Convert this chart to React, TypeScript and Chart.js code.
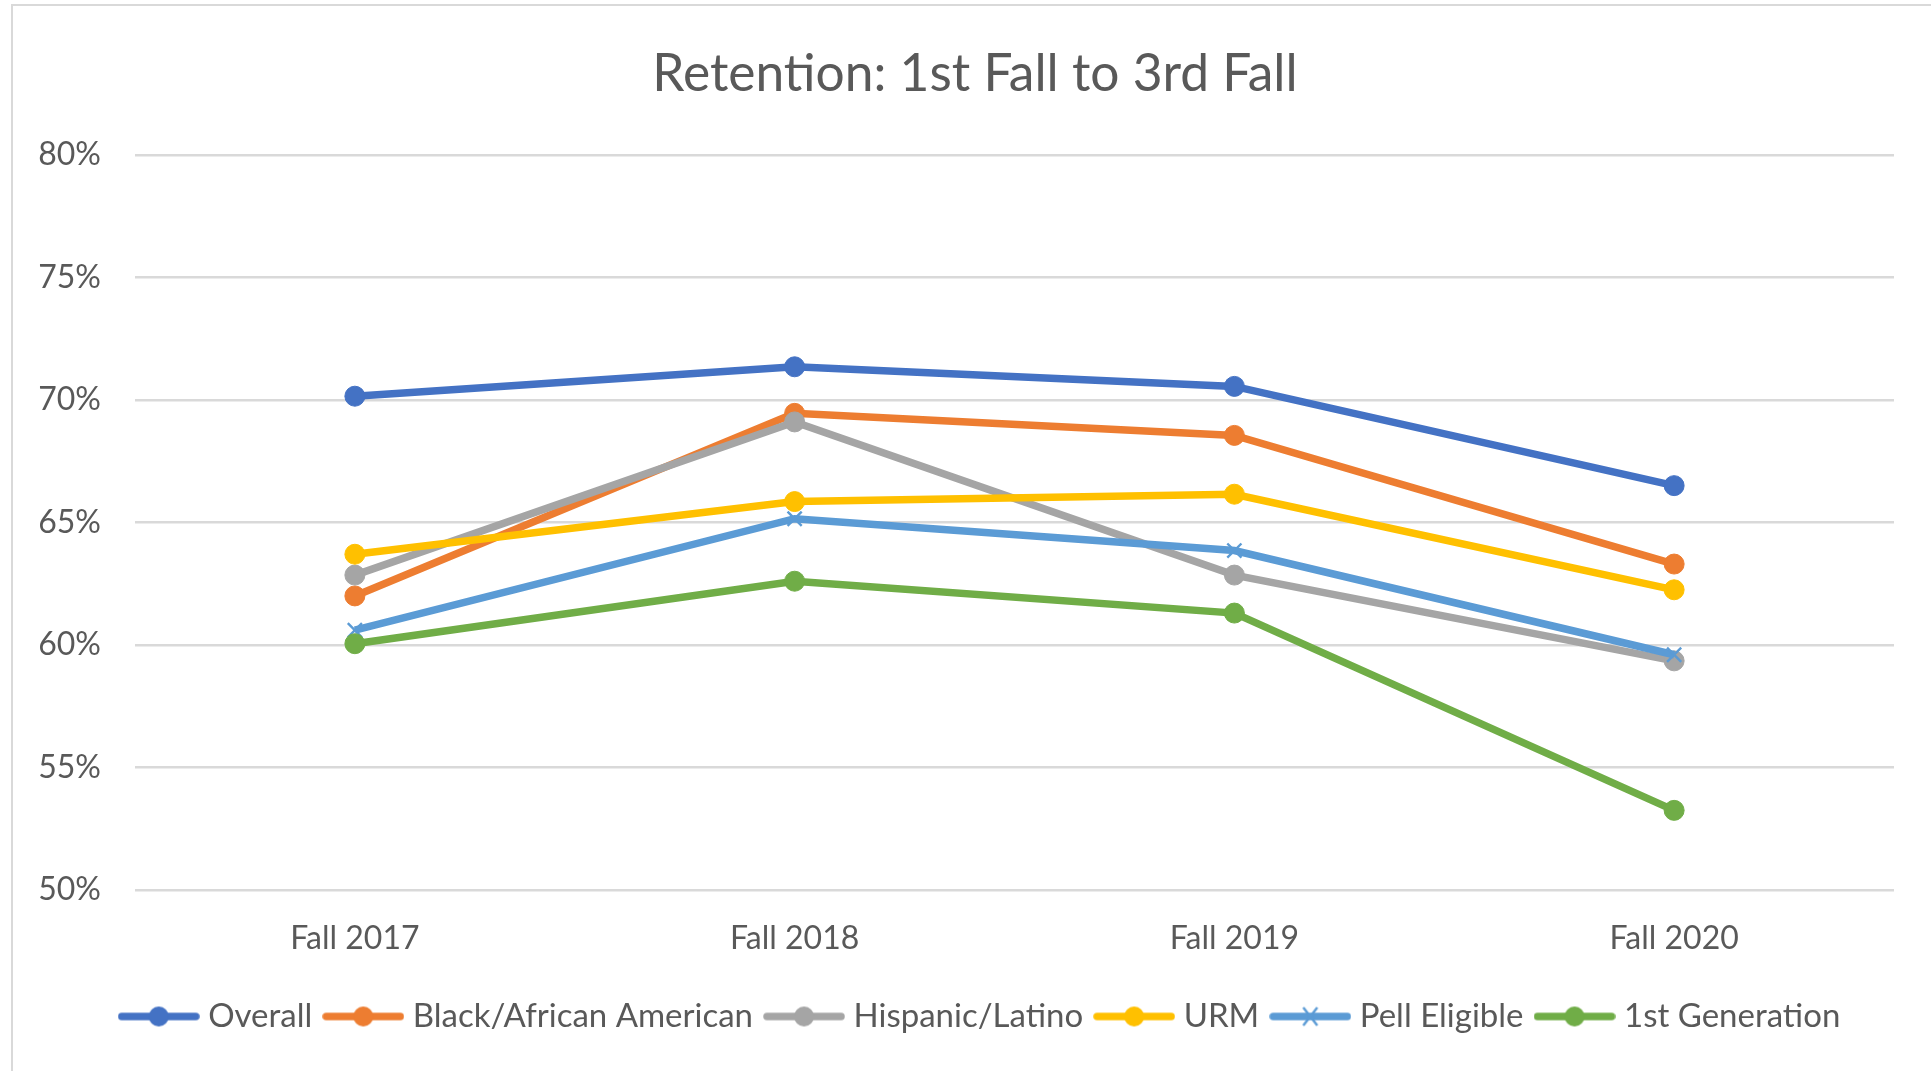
import React, { useEffect, useRef } from 'react';
import { Chart, registerables } from 'chart.js';

Chart.register(...registerables);

const categories = ['Fall 2017', 'Fall 2018', 'Fall 2019', 'Fall 2020'];
const overall = [70.15, 71.35, 70.55, 66.5];
const blackAfricanAmerican = [62.0, 69.45, 68.55, 63.3];
const hispanicLatino = [62.85, 69.1, 62.85, 59.35];
const urm = [63.7, 65.85, 66.15, 62.25];
const pellEligible = [60.6, 65.15, 63.85, 59.6];
const firstGeneration = [60.05, 62.6, 61.3, 53.25];
const seriesNames = ['Overall', 'Black/African American', 'Hispanic/Latino', 'URM', 'Pell Eligible', '1st Generation'];
const seriesColors = ['#4472C4', '#ED7D31', '#A5A5A5', '#FFC000', '#5B9BD5', '#70AD47'];
const seriesMarkers = ['circle', 'circle', 'circle', 'circle', 'crossRot', 'circle'];
const yMin = 50;
const yMax = 80;
const yStep = 5;
const titleText = 'Retention: 1st Fall to 3rd Fall';

const TEXT = '#595959';
const GRID = '#D9D9D9';
const FONT = 'Lato, "Noto Sans", sans-serif';
const LINE_W = 7.5;

function makeLegendMarker(color: string, marker: string): HTMLCanvasElement {
  const c = document.createElement('canvas');
  c.width = 82;
  c.height = 26;
  const ctx = c.getContext('2d')!;
  ctx.strokeStyle = color;
  ctx.lineWidth = LINE_W;
  ctx.lineCap = 'round';
  ctx.beginPath();
  ctx.moveTo(4, 13);
  ctx.lineTo(78, 13);
  ctx.stroke();
  if (marker === 'circle') {
    ctx.fillStyle = color;
    ctx.beginPath();
    ctx.arc(41, 13, 10, 0, Math.PI * 2);
    ctx.fill();
  } else {
    ctx.lineWidth = 2.4;
    ctx.lineCap = 'butt';
    ctx.beginPath();
    ctx.moveTo(34, 4);
    ctx.lineTo(48, 22);
    ctx.moveTo(48, 4);
    ctx.lineTo(34, 22);
    ctx.stroke();
  }
  return c;
}

export default function App() {
  const ref = useRef<HTMLCanvasElement | null>(null);

  useEffect(() => {
    if (!ref.current) return;
    const values = [overall, blackAfricanAmerican, hispanicLatino, urm, pellEligible, firstGeneration];
    const markers = seriesColors.map((c, i) => makeLegendMarker(c, seriesMarkers[i]));
    const datasets = values.map((data, i) => ({
      label: seriesNames[i],
      data,
      borderColor: seriesColors[i],
      backgroundColor: seriesColors[i],
      borderWidth: LINE_W,
      pointStyle: seriesMarkers[i],
      pointRadius: 10,
      pointHoverRadius: 10,
      pointBackgroundColor: seriesColors[i],
      pointBorderColor: seriesColors[i],
      pointBorderWidth: seriesMarkers[i] === 'crossRot' ? 2.4 : 1,
      tension: 0,
      fill: false,
      order: values.length - i,
    }));

    const shiftBlocks = {
      id: 'shiftBlocks',
      afterLayout(chart: any) {
        const lg = chart.legend;
        if (lg) {
          lg.left += 36;
          lg.right += 36;
        }
        const tb = chart.titleBlock;
        if (tb) {
          tb.left += 28;
          tb.right += 28;
        }
      },
    };

    const chart = new Chart(ref.current, {
      type: 'line',
      data: { labels: categories, datasets },
      plugins: [shiftBlocks],
      options: {
        responsive: false,
        animation: false,
        devicePixelRatio: 1,
        layout: { padding: { left: 0, right: 37, top: 0, bottom: 28 } },
        plugins: {
          tooltip: { enabled: false },
          title: {
            display: true,
            text: titleText,
            color: TEXT,
            font: { family: FONT, size: 51.5, weight: 'normal', lineHeight: 1.2 },
            padding: { top: 43, bottom: 50 },
          },
          legend: {
            display: true,
            position: 'bottom',
            labels: {
              color: TEXT,
              font: { family: FONT, size: 33, lineHeight: 1.2 },
              usePointStyle: true,
              pointStyleWidth: 66,
              boxHeight: 26,
              padding: 18,
              generateLabels: (ch: any) => {
                const items = Chart.defaults.plugins.legend.labels.generateLabels(ch);
                items.sort((a: any, b: any) => a.datasetIndex - b.datasetIndex);
                return items.map((it: any) => ({ ...it, pointStyle: markers[it.datasetIndex], fontColor: TEXT }));
              },
            },
          },
        },
        scales: {
          x: {
            type: 'category',
            offset: true,
            grid: { display: false, drawTicks: false },
            border: { display: false },
            ticks: { color: TEXT, font: { family: FONT, size: 32 }, padding: 29 },
            afterFit: (s: any) => {
              s.height = 92;
            },
          },
          y: {
            min: yMin,
            max: yMax,
            grid: { color: GRID, lineWidth: 2.5, drawTicks: false },
            border: { display: false },
            ticks: {
              stepSize: yStep,
              color: TEXT,
              font: { family: FONT, size: 32 },
              padding: 34,
              callback: (v: any) => `${v}%`,
            },
            afterFit: (s: any) => {
              s.width = 135;
            },
          },
        },
      },
    } as any);
    return () => chart.destroy();
  }, []);

  return (
    <>
      <div
        style={{
          position: 'absolute',
          left: 11,
          top: 4,
          width: 1918,
          height: 1065,
          borderLeft: '2px solid #D9D9D9',
          borderTop: '2px solid #D9D9D9',
          pointerEvents: 'none',
        }}
      />
      <canvas
        ref={ref}
        width={1931}
        height={1071}
        style={{ position: 'absolute', left: 0, top: 0, width: 1931, height: 1071, display: 'block' }}
      />
    </>
  );
}
